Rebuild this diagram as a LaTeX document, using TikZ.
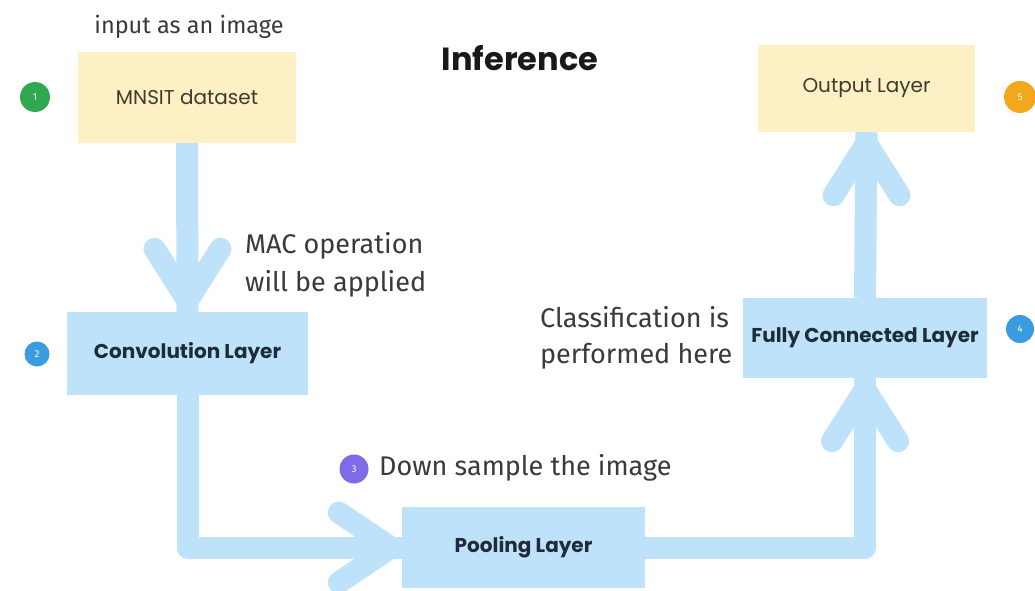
\documentclass[tikz,border=0pt]{standalone}
\usepackage{fontspec}
\setmainfont{Fira Sans}
\newfontfamily\boxfont{Poppins}
\usetikzlibrary{calc}

\definecolor{flowblue}{HTML}{BEE2FA}
\definecolor{paleyellow}{HTML}{FDF0C4}
\definecolor{boxtext}{HTML}{1F2B3A}
\definecolor{yeltext}{HTML}{3E3B2C}
\definecolor{notetext}{HTML}{3A3A3A}
\definecolor{stepgreen}{HTML}{2FA84F}
\definecolor{stepblue}{HTML}{3A9BE0}
\definecolor{steppurple}{HTML}{7E6BE8}
\definecolor{steporange}{HTML}{F2A81D}

\tikzset{
  yelbox/.style={fill=paleyellow, inner sep=0pt, font=\boxfont\fontsize{20}{24}\selectfont, text=yeltext},
  bluebox/.style={fill=flowblue, inner sep=0pt, font=\boxfont\bfseries\fontsize{20}{24}\selectfont, text=boxtext},
  shaft/.style={draw=flowblue, line width=22pt, line cap=butt, line join=round},
  chevron/.style={draw=flowblue, line width=22pt, line cap=round, line join=round},
  badge/.style={circle, inner sep=0pt, text=white, font=\fontsize{10}{11}\selectfont},
  note/.style={text=notetext, inner sep=0pt, font=\fontsize{27}{38}\selectfont},
}

\begin{document}
\begin{tikzpicture}[x=1pt, y=-1pt]
  \useasboundingbox[fill=white] (0,0) rectangle (1035,591);

  % layer boxes
  \node[yelbox, minimum width=218pt, minimum height=91pt] (mnsit) at (187,97.5) {MNSIT dataset};
  \node[yelbox, minimum width=217pt, minimum height=87pt] (output) at (866.5,88.5) {Output Layer};
  \node[bluebox, minimum width=241pt, minimum height=83pt] (conv) at (187.5,353.5) {Convolution Layer};
  \node[bluebox, minimum width=244pt, minimum height=80pt] (fc) at (865,338) {Fully Connected Layer};
  \node[bluebox, minimum width=243pt, minimum height=81pt] (pool) at (523.5,547.5) {Pooling Layer};

  % step badges
  \node[badge, fill=stepgreen, minimum size=30pt] (b1) at (35,97) {1};
  \node[badge, fill=stepblue, minimum size=25pt] (b2) at (37,354) {2};
  \node[badge, fill=steppurple, minimum size=29pt] (b3) at (354,469) {3};
  \node[badge, fill=stepblue, minimum size=28pt] (b4) at (1020,329) {4};
  \node[badge, fill=steporange, minimum size=32pt] (b5) at (1020,97) {5};

  % texts
  \node[note, font=\fontsize{23.5}{28}\selectfont] (tin) at (189,27) {input as an image};
  \node[text=black!90, inner sep=0pt, font=\boxfont\bfseries\fontsize{32}{38}\selectfont] (title) at (520,58) {Inference};
  \node[note, anchor=west, align=left] (mac) at (245,265) {MAC operation\\will be applied};
  \node[note, anchor=west, align=left, font=\fontsize{27}{36}\selectfont] (cls) at (540,338) {Classification is\\performed here};
  \node[note, anchor=west] (down) at (379,468) {Down sample the image};

  % flow arrows: shafts
  \draw[shaft] (mnsit.south) -- (conv.north);
  \draw[shaft] (conv.south) |- (pool.west);
  \draw[shaft] (pool.east) -| (fc.south);
  \draw[shaft] (fc.north) -- (output.south);

  % flow arrows: heads
  \coordinate (t1) at ($(conv.north)+(0,-11)$);
  \draw[chevron] ($(t1)+(-33,-52)$) -- (t1) -- ($(t1)+(33,-52)$);
  \coordinate (t2) at ($(pool.west)+(-11,0)$);
  \draw[chevron] ($(t2)+(-52,-35)$) -- (t2) -- ($(t2)+(-52,35)$);
  \coordinate (t3) at ($(fc.south)+(0,11)$);
  \draw[chevron] ($(t3)+(-33,52)$) -- (t3) -- ($(t3)+(33,52)$);
  \coordinate (t4) at ($(output.south)+(0,11)$);
  \draw[chevron] ($(t4)+(-33,52)$) -- (t4) -- ($(t4)+(33,52)$);
\end{tikzpicture}
\end{document}
